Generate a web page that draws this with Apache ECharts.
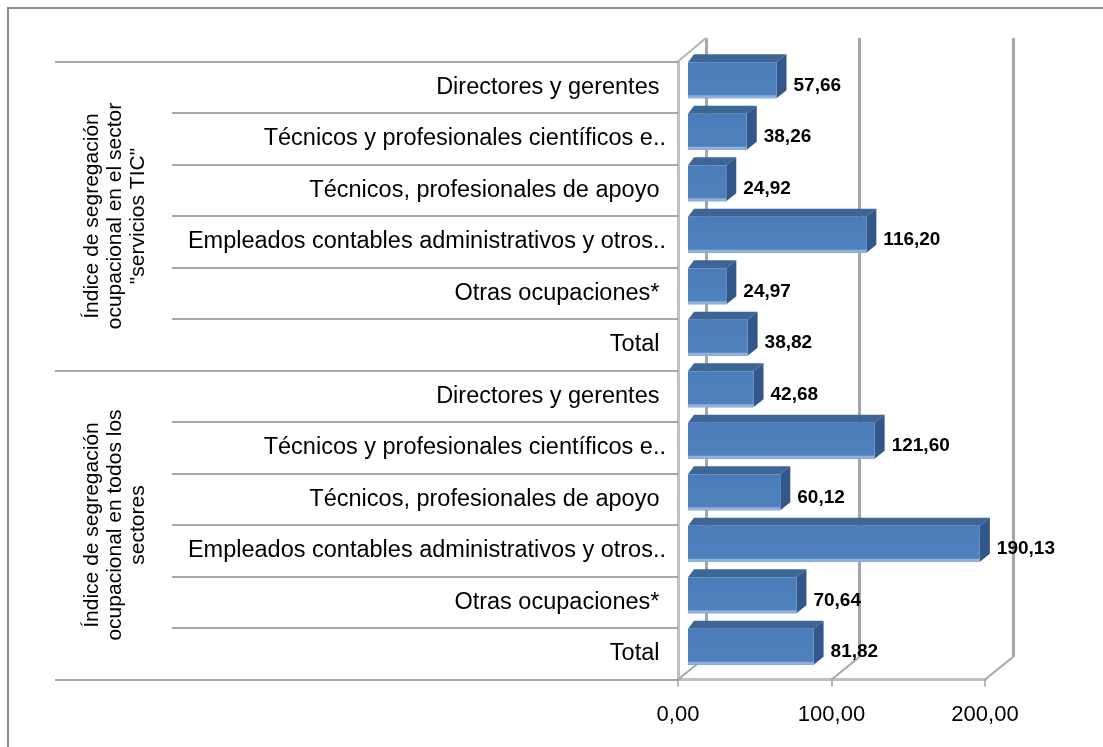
<!DOCTYPE html>
<html><head><meta charset="utf-8">
<script src="https://cdn.jsdelivr.net/npm/echarts@6/dist/echarts.min.js"></script>
<style>html,body{margin:0;padding:0;background:#fff}#c{width:1103px;height:747px}</style>
</head><body><div id="c"></div>
<script>
const groups = [
  'Índice de segregación\nocupacional en el sector\n"servicios TIC"',
  'Índice de segregación\nocupacional en todos los\nsectores'
];
const categories = [
  'Directores y gerentes ',
  'Técnicos y profesionales científicos e..',
  'Técnicos, profesionales de apoyo ',
  'Empleados contables administrativos y otros..',
  'Otras ocupaciones* ',
  'Total ',
  'Directores y gerentes ',
  'Técnicos y profesionales científicos e..',
  'Técnicos, profesionales de apoyo ',
  'Empleados contables administrativos y otros..',
  'Otras ocupaciones* ',
  'Total '
];
const values = [57.66, 38.26, 24.92, 116.20, 24.97, 38.82, 42.68, 121.60, 60.12, 190.13, 70.64, 81.82];
const xTicks = [0, 100, 200];

const FONT = 'Liberation Sans, Arial, sans-serif';
const fmt = v => v.toFixed(2).replace('.', ',');
const DX = 10, DY = 8;        // bar depth
const WX = 28, WY = 22.5;     // wall depth

const chart = echarts.init(document.getElementById('c'), null, {renderer: 'canvas'});
chart.setOption({
  backgroundColor: '#fff',
  animation: false,
  textStyle: {fontFamily: FONT},
  graphic: [{
    type: 'rect', silent: true, z: 100,
    shape: {x: 8, y: 8, width: 1300, height: 1000},
    style: {fill: 'none', stroke: '#8c8c8c', lineWidth: 2}
  }],
  grid: [
    {left: 678, top: 61.5, width: 307, height: 618},
    {left: 706, top: 38, width: 307, height: 619}
  ],
  xAxis: [
    {gridIndex: 0, type: 'value', min: 0, max: 200, interval: 100,
     axisLine: {show: true, lineStyle: {color: '#c0c0c0', width: 3}},
     axisTick: {show: true, length: 7, lineStyle: {color: '#a0a0a0', width: 1.5}},
     axisLabel: {fontSize: 22, color: '#000', margin: 24, fontFamily: FONT, formatter: v => fmt(v)},
     splitLine: {show: false}},
    {gridIndex: 1, type: 'value', min: 0, max: 200, interval: 100,
     axisLine: {show: false}, axisTick: {show: false}, axisLabel: {show: false},
     splitLine: {show: true, lineStyle: {color: '#a6a6a6', width: 3}}}
  ],
  yAxis: [
    {gridIndex: 0, type: 'category', position: 'left', inverse: true, data: categories,
     axisLine: {show: true, lineStyle: {color: '#c0c0c0', width: 3}},
     axisTick: {show: true, interval: 0, length: 506, lineStyle: {color: '#8c8c8c', width: 1.5}},
     axisLabel: {interval: 0, fontSize: 23.5, color: '#000', margin: 12, fontFamily: FONT, padding: [4, 0, 0, 0]},
     splitLine: {show: false}},
    {gridIndex: 0, type: 'category', position: 'left', inverse: true, data: groups,
     axisLine: {show: false},
     axisTick: {show: true, interval: 0, length: 623, lineStyle: {color: '#8c8c8c', width: 1.5}},
     axisLabel: {interval: 0, rotate: 90, fontSize: 21, lineHeight: 23, color: '#000', margin: 528, fontFamily: FONT, align: 'center'},
     splitLine: {show: false}},
    {gridIndex: 1, type: 'value', show: false, splitLine: {show: false}}
  ],
  series: [
    {
      type: 'custom', name: 'frame', xAxisIndex: 0, yAxisIndex: 0, z: 1, silent: true,
      data: xTicks.map(v => [v, 0]),
      encode: {x: 0, y: 1},
      renderItem(params, api) {
        const v = api.value(0);
        const cs = params.coordSys;
        const x = api.coord([v, 0])[0];
        const yb = cs.y + cs.height;
        const children = [{type: 'line', shape: {x1: x, y1: yb, x2: x + WX, y2: yb - WY},
          style: {stroke: '#a6a6a6', lineWidth: 2}}];
        if (params.dataIndex === 0) {
          children.push({type: 'line', shape: {x1: x, y1: cs.y, x2: x + WX, y2: cs.y - WY - 1},
            style: {stroke: '#b5b5b5', lineWidth: 2}});
        }
        return {type: 'group', children};
      }
    },
    {
      type: 'custom', name: 'bars', xAxisIndex: 0, yAxisIndex: 0, z: 3,
      data: values.map((v, i) => [v, i]),
      encode: {x: 0, y: 1},
      renderItem(params, api) {
        const v = api.value(0), c = api.value(1);
        const s = api.coord([0, c]), e = api.coord([v, c]);
        const band = api.size([0, 1])[1];
        const top = s[1] - band / 2 + 0.8;
        const h = band * 0.7;
        const x0 = s[0] + 10, x1 = e[0] + 10;
        return {type: 'group', children: [
          {type: 'polygon', shape: {points: [[x0, top], [x0 + DX * 0.6, top - DY], [x1 + DX, top - DY], [x1, top]]},
           style: {fill: '#3d6595'}},
          {type: 'polygon', shape: {points: [[x1, top], [x1 + DX, top - DY], [x1 + DX, top + h - DY], [x1, top + h]]},
           style: {fill: '#32578a'}},
          {type: 'rect', shape: {x: x0, y: top, width: x1 - x0, height: h},
           style: {fill: new echarts.graphic.LinearGradient(0, 0, 0, 1, [
             {offset: 0, color: '#4a7cb9'}, {offset: 0.9, color: '#4f81bd'}, {offset: 1, color: '#4f81bd'}])}},
          {type: 'rect', shape: {x: x0, y: top + h - 3, width: x1 - x0, height: 3},
           style: {fill: '#8fb1dc'}},
          {type: 'text', style: {text: fmt(v), x: x1 + 17, y: top + 23, align: 'left', verticalAlign: 'middle',
            fill: '#000', fontSize: 19, fontWeight: 'bold', fontFamily: FONT}}
        ]};
      }
    }
  ]
});
</script>
</body></html>
